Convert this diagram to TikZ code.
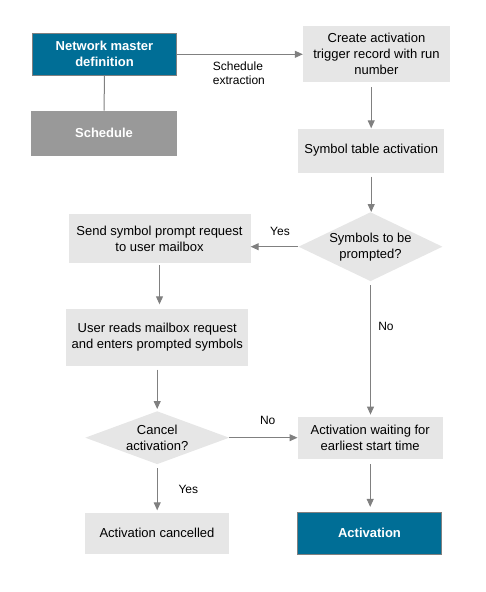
\documentclass[tikz,border=0pt]{standalone}
\usepackage{fontspec}
\setmainfont{Liberation Sans}
\usetikzlibrary{shapes.geometric,arrows.meta}
\definecolor{petrol}{RGB}{0,110,150}
\definecolor{boxgray}{RGB}{230,230,230}
\definecolor{darkgray}{RGB}{153,153,153}
\definecolor{linegray}{RGB}{128,128,128}
\tikzset{
  stepbox/.style={fill=boxgray, align=center, inner sep=0pt,
    font=\fontsize{13}{16}\selectfont},
  keybox/.style={fill=petrol, draw=linegray, line width=0.8pt, text=white,
    align=center, inner sep=0pt, font=\fontsize{13}{16}\selectfont\bfseries},
  greybox/.style={fill=darkgray, text=white, align=center, inner sep=0pt,
    font=\fontsize{13}{16}\selectfont\bfseries},
  askbox/.style={diamond, fill=boxgray, align=center, inner sep=0pt,
    font=\fontsize{13}{16}\selectfont},
  flow/.style={draw=linegray, line width=1pt,
    -{Triangle[length=8pt,width=7pt]}},
  link/.style={draw=linegray, line width=1pt},
  edgetext/.style={inner sep=0pt, font=\fontsize{12}{14}\selectfont}
}
\begin{document}
\begin{tikzpicture}[x=1pt,y=-1pt]
\useasboundingbox (0,0) rectangle (486,592);
% left column
\node[keybox, minimum width=144pt, minimum height=42pt] (net) at (104.5,54.3) {Network master\\definition};
\node[greybox, minimum width=146pt, minimum height=45pt] (sched) at (104,133.3) {Schedule};
\node[stepbox, minimum width=182pt, minimum height=49pt] (send) at (159.5,238.7) {Send symbol prompt request\\to user mailbox};
\node[stepbox, minimum width=182pt, minimum height=57pt] (reads) at (157.2,337) {User reads mailbox request\\and enters prompted symbols};
\node[askbox, aspect=2.7, minimum width=144pt, minimum height=53pt] (cancelq) at (157.2,437.7) {Cancel\\activation?};
\node[stepbox, minimum width=144pt, minimum height=41pt] (canc) at (157,533) {Activation cancelled};
% right column
\node[stepbox, minimum width=147pt, minimum height=56pt] (create) at (376.5,53.8) {Create activation\\trigger record with run\\number};
\node[stepbox, minimum width=146pt, minimum height=44pt] (symtab) at (371.2,150.5) {Symbol table activation};
\node[askbox, aspect=2.1, minimum width=144pt, minimum height=69pt] (symq) at (370.5,246.7) {Symbols to be\\prompted?};
\node[stepbox, minimum width=145pt, minimum height=42pt] (wait) at (370.2,437.8) {Activation waiting for\\earliest start time};
\node[keybox, minimum width=144pt, minimum height=42pt] (act) at (369.5,533.3) {Activation};
% connectors
\draw[link] (net) -- (sched);
\draw[flow] (net.east) -- (net.east -| create.west);
\node[edgetext, anchor=north west, align=left] (lblext) at (212.7,61.5) {Schedule\\extraction};
\draw[flow, shorten <=5pt] (symtab.north |- create.south) -- (symtab.north);
\draw[flow, shorten <=4pt] (symtab.south) -- (symtab.south |- symq.north);
\draw[flow] (symq.west) -- (symq.west -| send.east);
\node[edgetext] (lblyes1) at (280,231) {Yes};
\draw[flow, shorten <=2pt, shorten >=4pt] (send.south) -- (send.south |- reads.north);
\draw[flow, shorten <=4pt, shorten >=2pt] (reads.south) -- (reads.south |- cancelq.north);
\draw[flow, shorten <=4pt, shorten >=2pt] (cancelq.south) -- (cancelq.south |- canc.north);
\node[edgetext] (lblyes2) at (188.3,489.7) {Yes};
\draw[flow] (cancelq.east) -- (cancelq.east -| wait.west);
\node[edgetext] (lblno2) at (267.7,420.7) {No};
\draw[flow, shorten <=4pt, shorten >=2pt] (symq.south) -- (symq.south |- wait.north);
\node[edgetext] (lblno1) at (386,326) {No};
\draw[flow, shorten <=5pt, shorten >=5pt] (wait.south) -- (wait.south |- act.north);
\end{tikzpicture}
\end{document}
